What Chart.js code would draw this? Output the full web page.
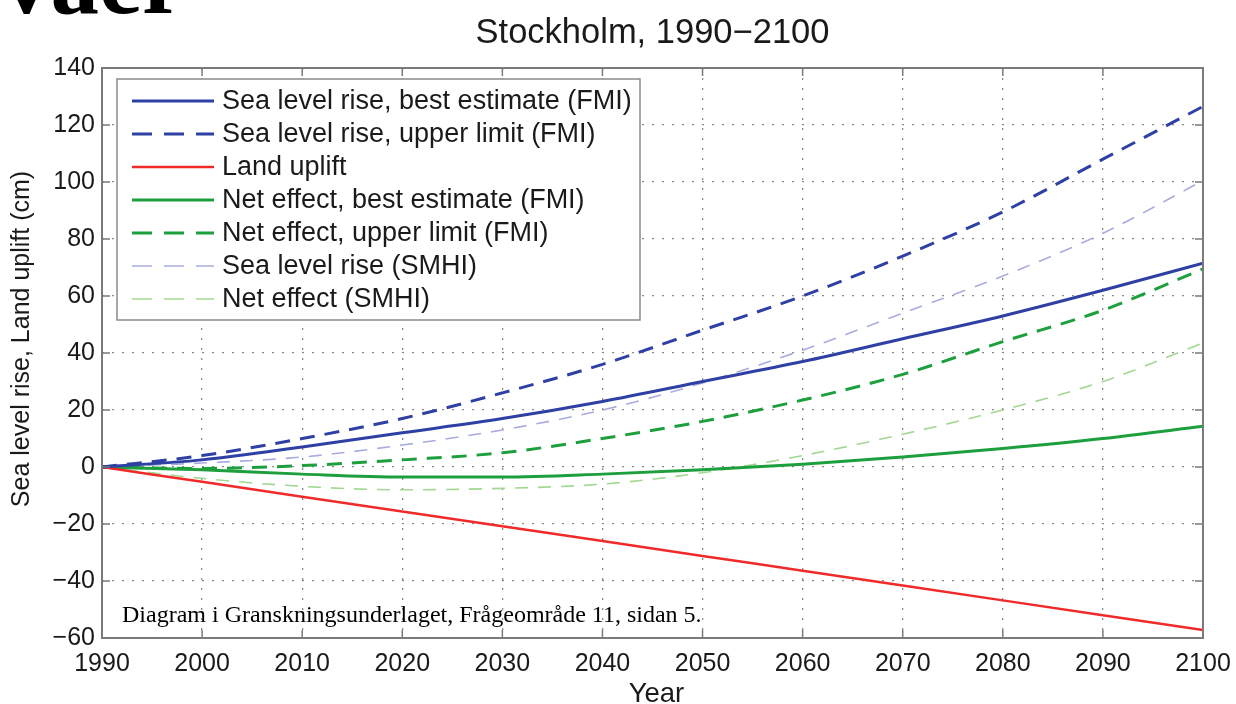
<!DOCTYPE html>
<html>
<head>
<meta charset="utf-8">
<script src="https://cdn.jsdelivr.net/npm/chart.js@4.4.1/dist/chart.umd.min.js"></script>
<style>
  html, body { margin: 0; padding: 0; background: #fff; overflow: hidden; }
  #wrap { position: relative; width: 1236px; height: 704px; }
  #top-word {
    position: absolute; left: 2px; top: -68px;
    font: bold 97px "Liberation Serif", serif; line-height: 1; color: #000;
  }
  canvas { position: absolute; left: 0; top: 0; }
</style>
</head>
<body>
<div id="wrap">
  <div id="top-word">vaer</div>
  <canvas id="chart" width="1236" height="704"></canvas>
</div>
<script>
// 1. Data (cm, every 10 years)
const years = [1990, 2000, 2010, 2020, 2030, 2040, 2050, 2060, 2070, 2080, 2090, 2100];

const seaBestFMI  = [0, 2.5, 7, 12, 17, 23, 30, 37, 45, 53, 62, 71.5];
const seaUpperFMI = [0, 4, 10, 17, 26, 36, 48, 60, 74, 89.5, 108, 126.5];
const landUplift  = [0, -5.2, -10.4, -15.6, -20.8, -26, -31.2, -36.4, -41.6, -46.8, -52, -57.2];
const netBestFMI  = [0, -1, -2.5, -3.5, -3.5, -2.5, -1, 1, 3.5, 6.5, 10, 14.3];
const netUpperFMI = [0, -0.5, 0.5, 2.5, 5, 10, 16, 23.5, 32.5, 44, 55, 69.5];
const seaSMHI     = [0, 1.4, 3.5, 7.7, 13, 20, 29.5, 41, 54, 67, 82, 100.5];
const netSMHI     = [0, -4, -6.8, -8, -7.5, -6, -2, 4, 11.5, 20, 30, 43.5];

const xTicks = [1990, 2000, 2010, 2020, 2030, 2040, 2050, 2060, 2070, 2080, 2090, 2100];
const yTicks = [-60, -40, -20, 0, 20, 40, 60, 80, 100, 120, 140];

const titleText = 'Stockholm, 1990\u22122100';
const xTitle = 'Year';
const yTitle = 'Sea level rise, Land uplift (cm)';
const noteText = 'Diagram i Granskningsunderlaget, Frågeområde 11, sidan 5.';

// 2. Styles
const BLUE = '#2f40a4';
const LIGHT_BLUE = '#a8acdf';
const RED = '#f02a2a';
const GREEN = '#1c9f3c';
const LIGHT_GREEN = '#a2d992';
const SANS = '"Liberation Sans", Arial, sans-serif';
const INK = '#1a1a1a';

function series(label, values, color, width, dash) {
    return {
        label: label,
        data: years.map((y, i) => ({ x: y, y: values[i] })),
        borderColor: color,
        borderWidth: width,
        borderDash: dash,
        pointRadius: 0,
        fill: false,
        cubicInterpolationMode: 'monotone'
    };
}

const datasets = [
    series('Sea level rise, best estimate (FMI)', seaBestFMI, BLUE, 3, []),
    series('Sea level rise, upper limit (FMI)', seaUpperFMI, BLUE, 3, [15, 10]),
    series('Land uplift', landUplift, RED, 2.5, []),
    series('Net effect, best estimate (FMI)', netBestFMI, GREEN, 3, []),
    series('Net effect, upper limit (FMI)', netUpperFMI, GREEN, 3, [15, 10]),
    series('Sea level rise (SMHI)', seaSMHI, LIGHT_BLUE, 1.6, [13, 10]),
    series('Net effect (SMHI)', netSMHI, LIGHT_GREEN, 1.6, [13, 10])
];

// 3. MATLAB-style frame, inward ticks, legend box, titles and note
const matlabBits = {
    id: 'matlabBits',
    afterDatasetsDraw(chart) {
        const { ctx, chartArea: a, scales } = chart;
        ctx.save();
        ctx.strokeStyle = '#7a7a7a';
        ctx.lineWidth = 1.5;
        const tl = 8;
        ctx.beginPath();
        xTicks.forEach(v => {
            const px = scales.x.getPixelForValue(v);
            ctx.moveTo(px, a.bottom); ctx.lineTo(px, a.bottom - tl);
            ctx.moveTo(px, a.top); ctx.lineTo(px, a.top + tl);
        });
        yTicks.forEach(v => {
            const py = scales.y.getPixelForValue(v);
            ctx.moveTo(a.left, py); ctx.lineTo(a.left + tl, py);
            ctx.moveTo(a.right, py); ctx.lineTo(a.right - tl, py);
        });
        ctx.stroke();
        ctx.lineWidth = 2;
        ctx.strokeRect(a.left, a.top, a.right - a.left, a.bottom - a.top);

        // legend
        const bx = a.left + 15, by = a.top + 11, bw = 523, bh = 241;
        ctx.fillStyle = '#fff';
        ctx.fillRect(bx, by, bw, bh);
        ctx.strokeStyle = '#8a8a8a';
        ctx.lineWidth = 1.5;
        ctx.strokeRect(bx, by, bw, bh);
        ctx.font = '27px ' + SANS;
        ctx.textBaseline = 'middle';
        ctx.textAlign = 'left';
        chart.data.datasets.forEach((ds, i) => {
            const ry = by + 22 + i * 33;
            ctx.strokeStyle = ds.borderColor;
            ctx.lineWidth = ds.borderWidth;
            ctx.setLineDash(ds.borderDash.length ? [20, 12] : []);
            ctx.beginPath();
            ctx.moveTo(bx + 15, ry);
            ctx.lineTo(bx + 97, ry);
            ctx.stroke();
            ctx.setLineDash([]);
            ctx.fillStyle = INK;
            ctx.fillText(ds.label, bx + 105, ry + 1);
        });

        // note text
        ctx.font = '24px "Liberation Serif", "Times New Roman", serif';
        ctx.fillStyle = '#000';
        ctx.textBaseline = 'alphabetic';
        ctx.fillText(noteText, a.left + 20, a.bottom - 16);

        // title and axis titles
        ctx.fillStyle = INK;
        ctx.textAlign = 'center';
        ctx.textBaseline = 'middle';
        ctx.font = '34.5px ' + SANS;
        ctx.fillText(titleText, (a.left + a.right) / 2, 33);
        ctx.font = '27.5px ' + SANS;
        ctx.fillText(xTitle, (a.left + a.right) / 2 + 4, a.bottom + 56);
        ctx.font = '25px ' + SANS;
        ctx.translate(22, (a.top + a.bottom) / 2 - 14);
        ctx.rotate(-Math.PI / 2);
        ctx.fillText(yTitle, 0, 0);
        ctx.restore();
    }
};

// 4. Chart
new Chart(document.getElementById('chart').getContext('2d'), {
    type: 'line',
    data: { datasets: datasets },
    plugins: [matlabBits],
    options: {
        responsive: false,
        animation: false,
        layout: { padding: { top: 68, right: 33, left: 0, bottom: 0 } },
        plugins: { legend: { display: false }, tooltip: { enabled: false } },
        scales: {
            x: {
                type: 'linear',
                min: 1990, max: 2100,
                afterBuildTicks: s => { s.ticks = xTicks.map(v => ({ value: v })); },
                afterFit: s => { s.height = 66; s.paddingLeft = 0; s.paddingRight = 0; },
                ticks: {
                    color: INK, padding: 11, maxRotation: 0,
                    font: { family: SANS, size: 25 },
                    callback: v => String(v)
                },
                grid: { color: '#8a8a8a', lineWidth: 1.3, drawTicks: false },
                border: { display: false, dash: [2, 8] }
            },
            y: {
                min: -60, max: 140,
                afterBuildTicks: s => { s.ticks = yTicks.map(v => ({ value: v })); },
                afterFit: s => { s.width = 102; s.paddingTop = 0; s.paddingBottom = 0; },
                ticks: {
                    color: INK, padding: 7,
                    font: { family: SANS, size: 25 },
                    callback: v => String(v).replace('-', '\u2212')
                },
                grid: { color: '#8a8a8a', lineWidth: 1.3, drawTicks: false },
                border: { display: false, dash: [2, 8] }
            }
        }
    }
});
</script>
</body>
</html>
